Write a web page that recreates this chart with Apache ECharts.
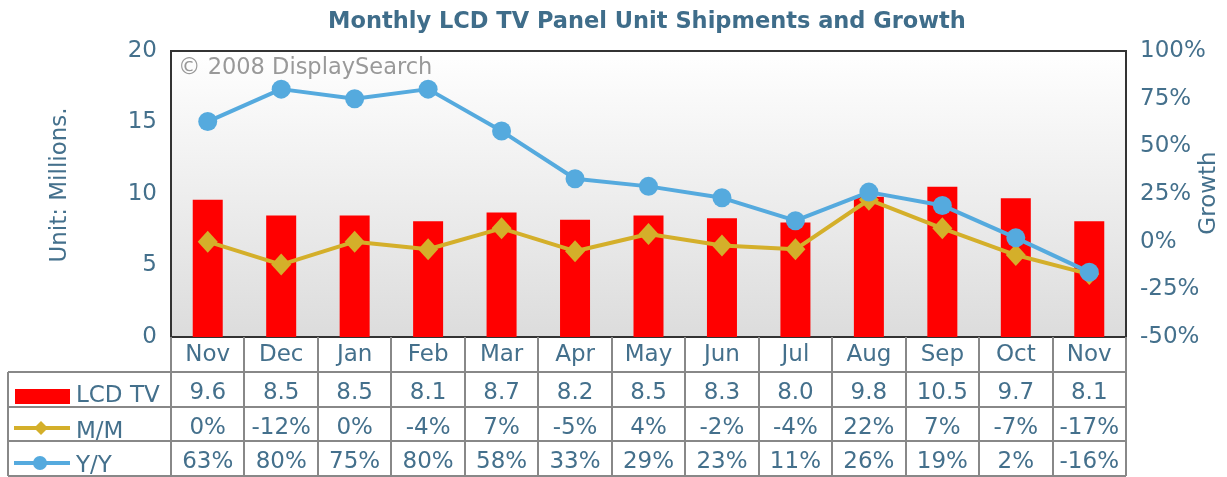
<!DOCTYPE html>
<html>
<head>
<meta charset="utf-8">
<script src="https://cdn.jsdelivr.net/npm/echarts@6/dist/echarts.min.js"></script>
<style>
  html, body { margin: 0; padding: 0; background: #fff; }
  #chart { width: 1227px; height: 477px; }
</style>
</head>
<body>
<div id="chart"></div>
<script>
// data
var months = ['Nov', 'Dec', 'Jan', 'Feb', 'Mar', 'Apr', 'May', 'Jun', 'Jul', 'Aug', 'Sep', 'Oct', 'Nov'];
var lcdTv = [9.6, 8.5, 8.5, 8.1, 8.7, 8.2, 8.5, 8.3, 8.0, 9.8, 10.5, 9.7, 8.1];
var mm = [0, -12, 0, -4, 7, -5, 4, -2, -4, 22, 7, -7, -17];
var yy = [63, 80, 75, 80, 58, 33, 29, 23, 11, 26, 19, 2, -16];
var leftTicks = [0, 5, 10, 15, 20];
var rightTicks = [-50, -25, 0, 25, 50, 75, 100];

var textColor = '#44708c';
var font = 'DejaVu Sans';
var fs = 23;
var gridLeft = 171, gridRight = 1126, gridTop = 51, gridBottom = 337;
var colW = (gridRight - gridLeft) / months.length;
var rowY = [337, 372, 407, 441, 476];
var lineColor = '#888888';

var chart = echarts.init(document.getElementById('chart'));

// table lines
var graphics = [];
for (var r = 1; r < rowY.length; r++) {
  graphics.push({ type: 'line', shape: { x1: 8, y1: rowY[r], x2: gridRight, y2: rowY[r] },
    style: { stroke: lineColor, lineWidth: 2 }, z: 1 });
}
graphics.push({ type: 'line', shape: { x1: 8, y1: rowY[1], x2: 8, y2: rowY[4] },
  style: { stroke: lineColor, lineWidth: 2 }, z: 1 });
for (var c = 0; c <= months.length; c++) {
  var x = Math.round(gridLeft + c * colW);
  graphics.push({ type: 'line', shape: { x1: x, y1: rowY[0], x2: x, y2: rowY[4] },
    style: { stroke: lineColor, lineWidth: 2 }, z: 1 });
}
var txt = fs + 'px "DejaVu Sans"';
// legend column
graphics.push({ type: 'rect', shape: { x: 15, y: 389, width: 55, height: 15 }, style: { fill: '#ff0000' } });
graphics.push({ type: 'text', style: { text: 'LCD TV', x: 76, y: 396, fill: textColor, font: txt, verticalAlign: 'middle' } });
graphics.push({ type: 'line', shape: { x1: 14, y1: 428, x2: 70, y2: 428 }, style: { stroke: '#d4af2a', lineWidth: 4 } });
graphics.push({ type: 'polygon', shape: { points: [[41, 421], [48, 428], [41, 435], [34, 428]] }, style: { fill: '#d4af2a' } });
graphics.push({ type: 'text', style: { text: 'M/M', x: 76, y: 432, fill: textColor, font: txt, verticalAlign: 'middle' } });
graphics.push({ type: 'line', shape: { x1: 14, y1: 463, x2: 70, y2: 463 }, style: { stroke: '#55aade', lineWidth: 4 } });
graphics.push({ type: 'circle', shape: { cx: 40, cy: 463, r: 7 }, style: { fill: '#55aade' } });
graphics.push({ type: 'text', style: { text: 'Y/Y', x: 76, y: 466, fill: textColor, font: txt, verticalAlign: 'middle' } });
// axis names
graphics.push({ type: 'text', x: 60, y: 185, rotation: Math.PI / 2,
  style: { text: 'Unit: Millions.', fill: textColor, font: txt, align: 'center', verticalAlign: 'middle' } });
graphics.push({ type: 'text', x: 1209, y: 193, rotation: Math.PI / 2,
  style: { text: 'Growth', fill: textColor, font: txt, align: 'center', verticalAlign: 'middle' } });
// watermark
graphics.push({ type: 'text', style: { text: '\u00a9 2008 DisplaySearch', x: 178, y: 68, fill: '#999999', font: '22.5px "DejaVu Sans"', verticalAlign: 'middle' }, z: 10 });

function tableAxis(labels, offset) {
  return {
    type: 'category', data: labels, position: 'bottom', offset: offset,
    axisLine: { show: false }, axisTick: { show: false }, splitLine: { show: false },
    axisLabel: { interval: 0, color: textColor, fontFamily: font, fontSize: fs, margin: 7 }
  };
}

var option = {
  animation: false,
  textStyle: { fontFamily: font },
  title: {
    text: 'Monthly LCD TV Panel Unit Shipments and Growth',
    left: 642, textAlign: 'center', top: 6,
    textStyle: { color: '#3f6d8a', fontFamily: font, fontSize: 22.5, fontWeight: 'bold' }
  },
  grid: {
    left: gridLeft, right: 1227 - gridRight, top: gridTop, bottom: 477 - gridBottom,
    outerBoundsMode: 'none', containLabel: false,
    show: true, borderColor: '#333333', borderWidth: 2,
    backgroundColor: { type: 'linear', x: 0, y: 0, x2: 0, y2: 1,
      colorStops: [{ offset: 0, color: '#ffffff' }, { offset: 1, color: '#dcdcdc' }] }
  },
  xAxis: [
    tableAxis(months, 0),
    tableAxis(lcdTv.map(function (v) { return v.toFixed(1); }), 38),
    tableAxis(mm.map(function (v) { return v + '%'; }), 73),
    tableAxis(yy.map(function (v) { return v + '%'; }), 107)
  ],
  yAxis: [
    {
      type: 'value', min: leftTicks[0], max: leftTicks[leftTicks.length - 1], interval: 5,
      axisLine: { show: false }, axisTick: { show: false }, splitLine: { show: false },
      axisLabel: { color: textColor, fontFamily: font, fontSize: fs, margin: 14 }
    },
    {
      type: 'value', min: rightTicks[0], max: rightTicks[rightTicks.length - 1], interval: 25,
      axisLine: { show: false }, axisTick: { show: false }, splitLine: { show: false },
      axisLabel: { color: textColor, fontFamily: font, fontSize: fs, margin: 14, formatter: '{value}%' }
    }
  ],
  series: [
    {
      name: 'LCD TV', type: 'bar', data: lcdTv, xAxisIndex: 0, yAxisIndex: 0,
      barWidth: 30, itemStyle: { color: '#ff0000' }
    },
    {
      name: 'M/M', type: 'line', data: mm, xAxisIndex: 0, yAxisIndex: 1,
      symbol: 'diamond', symbolSize: [20, 22], lineStyle: { color: '#d4af2a', width: 4 },
      itemStyle: { color: '#d4af2a' }
    },
    {
      name: 'Y/Y', type: 'line', data: yy, xAxisIndex: 0, yAxisIndex: 1,
      symbol: 'circle', symbolSize: 19, lineStyle: { color: '#55aade', width: 4 },
      itemStyle: { color: '#55aade' }
    }
  ],
  graphic: graphics
};
chart.setOption(option);
</script>
</body>
</html>
